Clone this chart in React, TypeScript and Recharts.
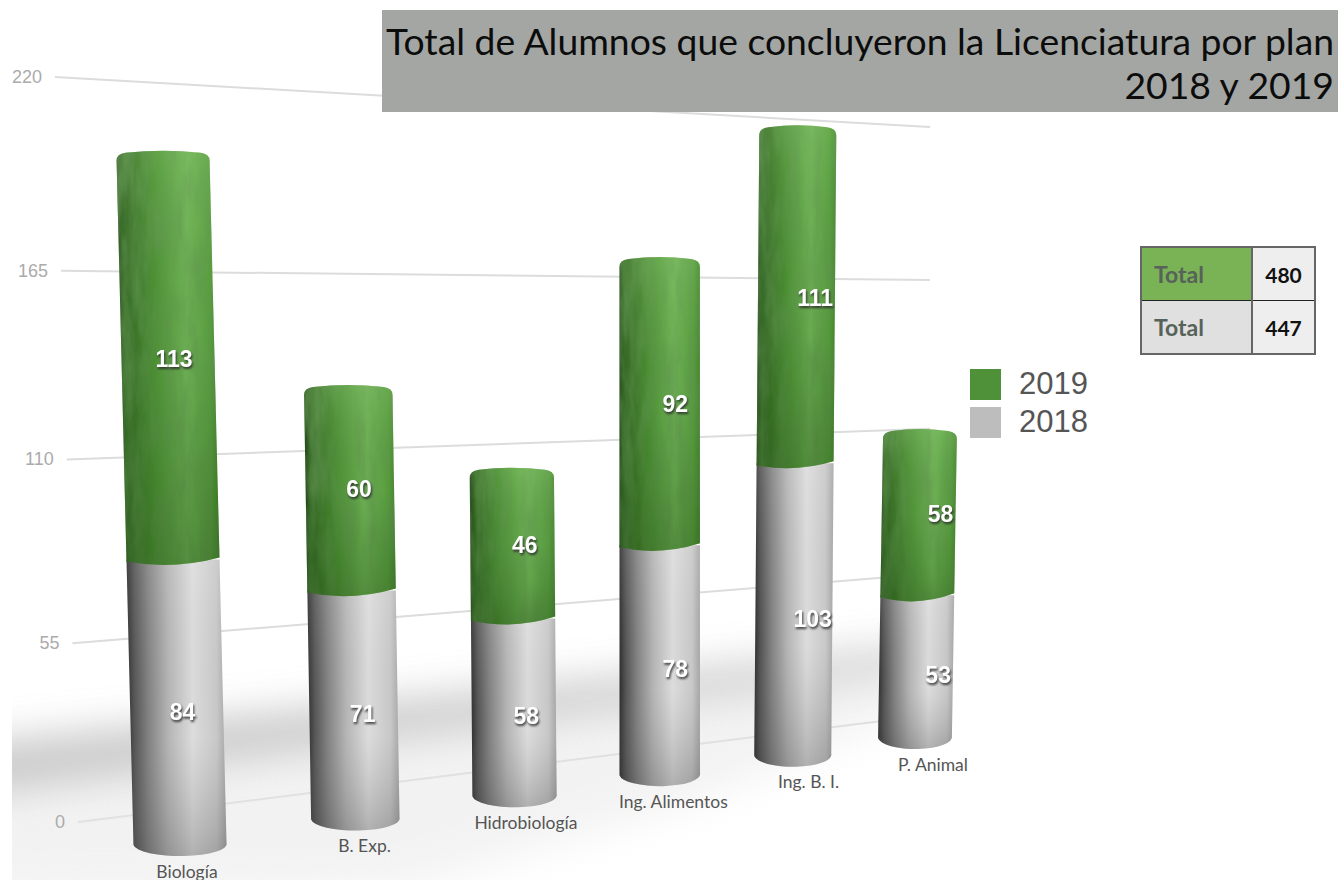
import { BarChart, Bar, XAxis, YAxis, CartesianGrid, Legend, LabelList } from 'recharts'

const categories = ['Biología', 'B. Exp.', 'Hidrobiología', 'Ing. Alimentos', 'Ing. B. I.', 'P. Animal']
const values2018 = [84, 71, 58, 78, 103, 53]
const values2019 = [113, 60, 46, 92, 111, 58]
const yTicks = [0, 55, 110, 165, 220]
const totalsRows = [
  { label: 'Total', value: 480, bg: '#7ab356' },
  { label: 'Total', value: 447, bg: '#e0e0e0' },
]

const data = categories.map((name, i) => ({ name, y2018: values2018[i], y2019: values2019[i] }))

// flat plot area that recharts lays out, bent afterwards into the perspective of the picture
const W = 1338
const H = 880
const PLOT = { left: 60, top: 80, right: 1260, bottom: 800 }
const BAND = (PLOT.right - PLOT.left) / categories.length
const RATIO = 1.253

const lerp = (a: number, b: number, k: number) => a + (b - a) * k
const depth = (t: number) => 1 + (RATIO - 1) * t

const toT = (px: number) => (px - PLOT.left - BAND / 2) / (BAND * (categories.length - 1))
// height is foreshortened a little towards the floor
const toV = (py: number) => {
  const v = (PLOT.bottom - py) / (PLOT.bottom - PLOT.top)
  return v / (1 + 0.055 * (1 - v))
}

// bar axes: first and last bar, foot and 220 level
function project(px: number, py: number) {
  const t = toT(px)
  const v = toV(py)
  const x0 = lerp(180, 161, v)
  const y0 = lerp(845, 72, v)
  const x1 = lerp(915, 925, v)
  const y1 = lerp(738, 121, v)
  return {
    x: (x0 + t * (RATIO * x1 - x0)) / depth(t),
    y: (y0 + t * (RATIO * y1 - y0)) / depth(t),
  }
}

// back wall with the grid lines
function gridLine(py: number) {
  const v = toV(py)
  return {
    x1: lerp(78, 55, v),
    y1: lerp(822, 77, v),
    x2: 930,
    y2: lerp(715, 127, v),
  }
}

function cylinderPath(props: any) {
  const { x, y, width, height } = props
  const cx = x + width / 2
  const t = toT(cx)
  const hw = (width / 2) * 0.93 / (1 + 0.26 * t)
  const top = project(cx, y)
  const foot = project(cx, y + height)
  const ryFoot = 3 + (1 - toV(y + height)) * 9
  return { top, foot, hw, ryFoot }
}

function GreyCylinder(props: any) {
  const { foot, top, hw, ryFoot } = cylinderPath(props)
  const d = `M${foot.x - hw},${foot.y} L${top.x - hw},${top.y} L${top.x + hw},${top.y} L${foot.x + hw},${foot.y - 2}
    A${hw},${ryFoot} 0 0 1 ${foot.x - hw},${foot.y} Z`
  return (
    <g>
      <path d={d} fill="url(#greyBody)" />
      <path d={d} fill="url(#greyShade)" />
    </g>
  )
}

function GreenCylinder(props: any) {
  const { foot, top, hw, ryFoot } = cylinderPath(props)
  const capY = top.y - 5
  const d = `M${foot.x - hw},${foot.y + 2} L${top.x - hw},${capY + 9}
    Q${top.x - hw},${capY + 2} ${top.x - hw + 9},${capY + 1}
    Q${top.x},${capY - 3} ${top.x + hw - 9},${capY + 1}
    Q${top.x + hw},${capY + 2} ${top.x + hw},${capY + 9}
    L${foot.x + hw},${foot.y - 2} Q${foot.x},${foot.y + ryFoot * 1.2} ${foot.x - hw},${foot.y + 2} Z`
  return (
    <g>
      <path d={d} fill="url(#greenBody)" filter="url(#leaf)" />
      <path d={d} fill="url(#greenShade)" />
    </g>
  )
}

const barLabel = (dy: number) => (props: any) => {
  const { x, y, width, height, value, index } = props
  const p = project(x + width / 2, y + height / 2)
  return (
    <text
      x={p.x + 6 + index * 3.2}
      y={p.y + dy}
      fill="#ffffff"
      fontFamily="Liberation Sans"
      fontSize={23}
      fontWeight={700}
      textAnchor="middle"
      dominantBaseline="central"
      style={{ filter: 'drop-shadow(1px 2px 1px rgba(40,40,40,0.85))' }}
    >
      {value}
    </text>
  )
}

const GridRow = (props: any) => {
  const g = gridLine(props.y1)
  return <line key={props.y1} {...g} stroke="#dcdcdc" strokeWidth={2} />
}

const YTick = (props: any) => {
  const g = gridLine(props.y)
  return (
    <text
      x={g.x1 - 13}
      y={g.y1}
      fill="#ababab"
      fontFamily="Liberation Sans"
      fontSize={18}
      textAnchor="end"
      dominantBaseline="central"
    >
      {props.payload.value}
    </text>
  )
}

const XTick = (props: any) => {
  const p = project(props.x, PLOT.bottom)
  return (
    <text
      x={p.x + 7 + props.index * 2.2}
      y={p.y + 26}
      fill="#555555"
      fontFamily="Lato"
      fontSize={17.5}
      textAnchor="middle"
      dominantBaseline="central"
    >
      {props.payload.value}
    </text>
  )
}

const LegendBox = ({ payload }: any) => (
  <div>
    {[...(payload ?? [])].reverse().map((p: any) => (
      <div key={p.value} style={{ display: 'flex', alignItems: 'center', height: 38 }}>
        <span style={{ width: 31, height: 31, background: p.value === '2019' ? '#4f9138' : '#bdbdbd', marginRight: 18 }} />
        <span style={{ fontFamily: 'Liberation Sans', fontSize: 31, color: '#555555' }}>{p.value}</span>
      </div>
    ))}
  </div>
)

function TotalsTable() {
  return (
    <table
      style={{
        position: 'absolute', left: 1140, top: 246, width: 176, height: 109,
        borderCollapse: 'collapse', border: '2px solid #666666', fontFamily: 'Lato', fontWeight: 700,
      }}
    >
      <tbody>
        {totalsRows.map((row, i) => (
          <tr key={row.value} style={{ borderTop: i ? '1px solid #222222' : undefined }}>
            <td style={{ width: 96, background: row.bg, color: '#56625a', fontSize: 23, paddingLeft: 12 }}>{row.label}</td>
            <td style={{ background: '#eeeeee', color: '#111111', fontSize: 21, textAlign: 'center', borderLeft: '2px solid #666666' }}>
              {row.value}
            </td>
          </tr>
        ))}
      </tbody>
    </table>
  )
}

export default function App() {
  return (
    <div style={{ position: 'absolute', left: 0, top: 0, width: W, height: H, overflow: 'hidden', background: '#fff' }}>
      <BarChart
        width={W}
        height={H}
        data={data}
        barSize={100}
        margin={{ top: PLOT.top, right: W - PLOT.right, bottom: 0, left: 0 }}
      >
        <defs>
          <linearGradient id="greenBody" x1="0" y1="0" x2="1" y2="0">
            <stop offset="0" stopColor="#1f3f16" />
            <stop offset="0.07" stopColor="#356626" />
            <stop offset="0.35" stopColor="#4c8f33" />
            <stop offset="0.68" stopColor="#73b659" />
            <stop offset="0.92" stopColor="#5a9f40" />
            <stop offset="1" stopColor="#47852f" />
          </linearGradient>
          <linearGradient id="greenShade" x1="0" y1="0" x2="0" y2="1">
            <stop offset="0" stopColor="#9fdc85" stopOpacity={0.2} />
            <stop offset="0.5" stopColor="#1f5a12" stopOpacity={0.05} />
            <stop offset="1" stopColor="#1f4a10" stopOpacity={0.35} />
          </linearGradient>
          <linearGradient id="greyBody" x1="0" y1="0" x2="1" y2="0">
            <stop offset="0" stopColor="#2e2e2e" />
            <stop offset="0.08" stopColor="#555555" />
            <stop offset="0.22" stopColor="#828282" />
            <stop offset="0.42" stopColor="#b5b5b5" />
            <stop offset="0.66" stopColor="#dcdcdc" />
            <stop offset="0.9" stopColor="#c8c8c8" />
            <stop offset="1" stopColor="#a6a6a6" />
          </linearGradient>
          <linearGradient id="greyShade" x1="0" y1="0" x2="0" y2="1">
            <stop offset="0" stopColor="#ffffff" stopOpacity={0.1} />
            <stop offset="0.6" stopColor="#808080" stopOpacity={0} />
            <stop offset="1" stopColor="#404040" stopOpacity={0.28} />
          </linearGradient>
          <filter id="leaf" x="0" y="0" width="1" height="1">
            <feTurbulence type="fractalNoise" baseFrequency="0.09 0.02" numOctaves={3} seed={4} />
            <feColorMatrix values="0 0 0 0 0.12  0 0 0 0 0.3  0 0 0 0 0.08  1.1 0 0 0 -0.3" />
            <feComposite in2="SourceGraphic" operator="in" />
            <feMerge>
              <feMergeNode in="SourceGraphic" />
              <feMergeNode />
            </feMerge>
          </filter>
          <filter id="floorBlur" x="-20%" y="-60%" width="140%" height="220%">
            <feGaussianBlur stdDeviation="20" />
          </filter>
          <clipPath id="floorClip">
            <rect x={12} y={560} width={1100} height={320} />
          </clipPath>
        </defs>

        {/* soft shadow on the floor, behind everything */}
        <g clipPath="url(#floorClip)">
          <polygon points="-30,790 900,675 900,715 700,800 400,890 -30,900" fill="#e6e6e6" opacity={0.5} filter="url(#floorBlur)" />
          <polygon points="-30,745 915,648 915,670 -30,795" fill="#bcbcbc" opacity={0.85} filter="url(#floorBlur)" />
        </g>

        <CartesianGrid vertical={false} horizontal={GridRow as any} />
        <XAxis dataKey="name" axisLine={false} tickLine={false} interval={0} tick={XTick as any} height={H - PLOT.bottom} />
        <YAxis
          domain={[0, 220]}
          ticks={yTicks}
          axisLine={false}
          tickLine={false}
          tick={YTick as any}
          width={PLOT.left}
        />
        <Legend
          layout="horizontal"
          verticalAlign="middle"
          content={LegendBox as any}
          wrapperStyle={{ position: 'absolute', left: 970, top: 365, width: 140, bottom: 'auto' }}
        />
        <Bar dataKey="y2018" name="2018" stackId="a" fill="#bdbdbd" shape={GreyCylinder as any} isAnimationActive={false}>
          <LabelList dataKey="y2018" content={barLabel(8) as any} />
        </Bar>
        <Bar dataKey="y2019" name="2019" stackId="a" fill="#4f9138" shape={GreenCylinder as any} isAnimationActive={false}>
          <LabelList dataKey="y2019" content={barLabel(-2) as any} />
        </Bar>
      </BarChart>

      <div
        style={{
          position: 'absolute', left: 382, top: 10, width: 956, height: 102, boxSizing: 'border-box',
          background: '#a3a6a3', color: '#0c0c0c', fontFamily: 'Lato', fontSize: 37.3, lineHeight: '44px',
          textAlign: 'right', padding: '9px 4px 0 0', whiteSpace: 'nowrap',
        }}
      >
        <div>Total de Alumnos que concluyeron la Licenciatura por plan</div>
        <div>2018 y 2019</div>
      </div>

      <TotalsTable />
    </div>
  )
}
